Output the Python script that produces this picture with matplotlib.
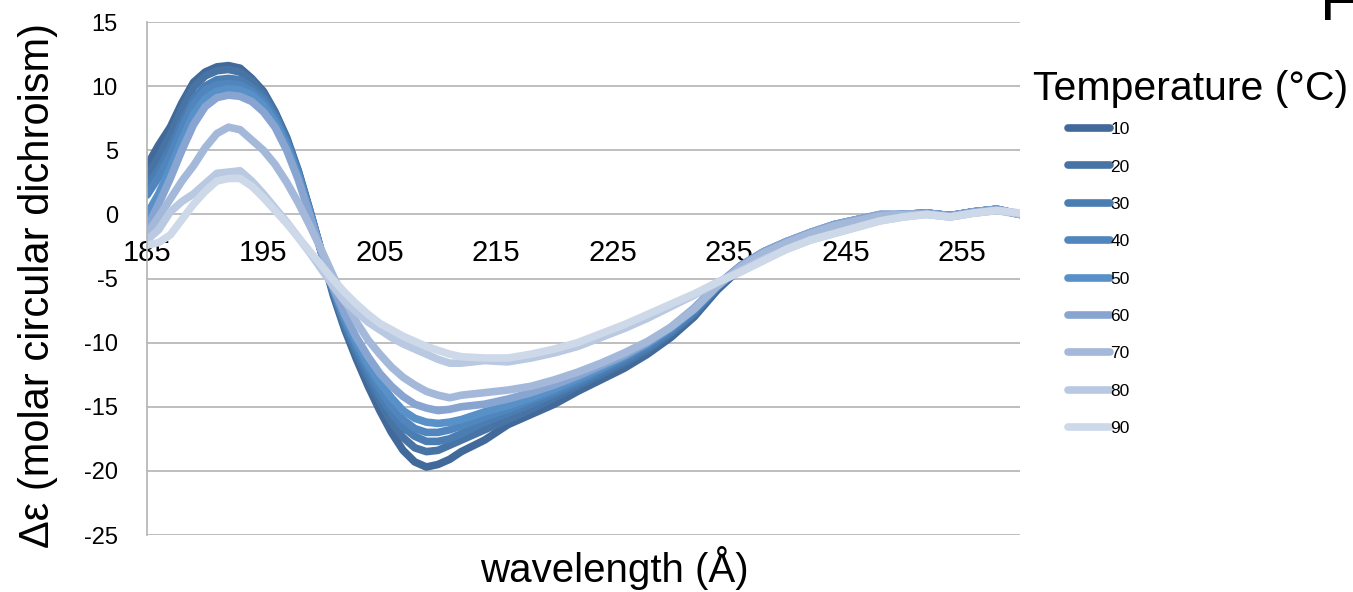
import matplotlib
matplotlib.use('Agg')
import matplotlib.pyplot as plt

plt.rcParams['font.family'] = 'Liberation Sans'
plt.rcParams['axes.unicode_minus'] = False

# wavelength grid (nm) and CD spectra, one list per temperature
wavelength = list(range(185, 213)) + list(range(214, 261, 2))

temps = ['10', '20', '30', '40', '50', '60', '70', '80', '90']
colors = ['#41699a', '#4774a4', '#4a7db2', '#5086bd', '#5891c8',
          '#88a5d2', '#a4b8da', '#b9c9e2', '#cdd8e9']

d10 = [3.8, 5.4, 6.8, 8.7, 10.3, 11.1, 11.5, 11.6, 11.4, 10.6,
       9.6, 8.0, 6.0, 3.4, 0.3, -3.0, -6.3, -9.0, -11.3, -13.4,
       -15.3, -17.0, -18.4, -19.3, -19.7, -19.5, -19.1, -18.5,
       -17.6, -16.4, -15.6, -14.8, -13.8, -12.9, -12.0, -10.9, -9.6, -8.0, -5.9, -4.2,
       -3.1, -2.3, -1.7, -1.0, -0.6, -0.2, 0.0, 0.1, -0.1, 0.2, 0.4, 0.0]
d20 = [3.0, 4.5, 6.2, 8.2, 9.9, 10.8, 11.2, 11.3, 11.1, 10.4,
       9.4, 7.9, 5.9, 3.3, 0.2, -3.0, -6.1, -8.8, -10.9, -12.8,
       -14.6, -16.2, -17.4, -18.2, -18.5, -18.4, -18.0, -17.6,
       -16.8, -16.0, -15.2, -14.3, -13.4, -12.5, -11.6, -10.6, -9.3, -7.8, -5.7, -4.1,
       -3.0, -2.2, -1.6, -0.9, -0.5, -0.1, 0.0, 0.1, -0.1, 0.2, 0.4, 0.0]
d30 = [2.2, 3.5, 5.2, 7.2, 9.0, 10.0, 10.5, 10.6, 10.5, 9.9,
       9.1, 7.7, 5.8, 3.3, 0.2, -3.0, -6.0, -8.5, -10.6, -12.4,
       -14.1, -15.5, -16.6, -17.3, -17.7, -17.7, -17.5, -17.1,
       -16.2, -15.5, -14.8, -14.0, -13.2, -12.3, -11.4, -10.4, -9.2, -7.7, -5.7, -4.1,
       -3.0, -2.2, -1.5, -0.9, -0.5, -0.1, 0.0, 0.1, -0.1, 0.2, 0.4, 0.0]
d40 = [1.5, 2.9, 4.6, 6.7, 8.6, 9.7, 10.1, 10.2, 10.1, 9.6,
       8.8, 7.5, 5.6, 3.2, 0.2, -3.0, -5.9, -8.3, -10.3, -12.0,
       -13.6, -15.0, -16.0, -16.7, -17.0, -17.0, -16.8, -16.5,
       -15.8, -15.2, -14.5, -13.8, -13.0, -12.1, -11.2, -10.2, -9.0, -7.5, -5.6, -4.0,
       -2.9, -2.1, -1.5, -0.8, -0.4, -0.1, 0.0, 0.1, -0.1, 0.2, 0.4, 0.0]
d50 = [0.0, 1.6, 3.6, 5.8, 7.8, 9.0, 9.6, 9.8, 9.7, 9.3,
       8.5, 7.2, 5.4, 3.0, 0.1, -3.0, -5.8, -8.1, -10.0, -11.7,
       -13.1, -14.3, -15.3, -15.9, -16.2, -16.3, -16.2, -16.0,
       -15.4, -14.9, -14.3, -13.6, -12.8, -12.0, -11.1, -10.1, -8.9, -7.4, -5.5, -4.0,
       -2.9, -2.1, -1.4, -0.8, -0.4, 0.0, 0.0, 0.1, -0.1, 0.2, 0.4, 0.0]
d60 = [-1.0, 0.8, 2.8, 5.0, 7.0, 8.4, 9.1, 9.3, 9.2, 8.8,
       8.0, 6.8, 5.0, 2.7, -0.1, -3.0, -5.7, -7.8, -9.6, -11.1,
       -12.4, -13.4, -14.2, -14.8, -15.1, -15.3, -15.2, -15.0,
       -14.8, -14.4, -13.9, -13.3, -12.6, -11.8, -11.0, -10.0, -8.8, -7.3, -5.5, -4.0,
       -2.9, -2.1, -1.4, -0.8, -0.4, 0.0, 0.0, 0.1, -0.1, 0.2, 0.4, 0.0]
d70 = [-1.5, -0.2, 1.2, 2.6, 3.8, 5.2, 6.3, 6.8, 6.6, 5.8,
       5.0, 3.9, 2.5, 0.9, -0.9, -2.8, -4.8, -6.7, -8.4, -9.8,
       -10.9, -11.9, -12.7, -13.3, -13.8, -14.1, -14.3, -14.1,
       -13.9, -13.7, -13.4, -12.9, -12.3, -11.6, -10.8, -9.9, -8.8, -7.4, -5.6, -4.1,
       -3.0, -2.2, -1.5, -0.9, -0.5, -0.1, 0.0, 0.0, -0.2, 0.1, 0.3, 0.0]
d80 = [-2.0, -1.2, 0.2, 1.0, 1.6, 2.4, 3.2, 3.3, 3.4, 2.6,
       1.6, 0.5, -0.6, -1.8, -3.0, -4.3, -5.6, -6.8, -7.6, -8.4,
       -9.0, -9.6, -10.1, -10.5, -10.9, -11.3, -11.6, -11.6,
       -11.4, -11.5, -11.2, -10.8, -10.3, -9.6, -8.9, -8.1, -7.2, -6.3, -5.3, -4.4,
       -3.5, -2.7, -2.0, -1.5, -1.0, -0.5, -0.2, 0.0, -0.2, 0.1, 0.3, 0.1]
d90 = [-2.4, -2.2, -1.6, -0.4, 0.8, 1.8, 2.6, 2.8, 2.8, 2.2,
       1.3, 0.3, -0.7, -1.8, -2.9, -4.0, -5.1, -6.1, -7.0, -7.8,
       -8.5, -9.0, -9.5, -9.9, -10.3, -10.6, -10.9, -11.1,
       -11.2, -11.2, -10.9, -10.5, -10.0, -9.3, -8.6, -7.8, -7.0, -6.2, -5.3, -4.5,
       -3.6, -2.7, -2.0, -1.5, -1.0, -0.5, -0.2, 0.0, -0.2, 0.1, 0.3, 0.1]

series = [d10, d20, d30, d40, d50, d60, d70, d80, d90]

fig = plt.figure(figsize=(13.53, 5.92), dpi=100)
ax = fig.add_axes([0.10865, 0.09628, 0.64523, 0.86655])

handles = []
for t, c, vals in zip(temps, colors, series):
    ln, = ax.plot(wavelength, vals, color=c, lw=5.5, label=t,
                  solid_capstyle='round', solid_joinstyle='round')
    handles.append(ln)

ax.set_xlim(185, 260)
ax.set_ylim(-25, 15)
ax.set_xticks(range(185, 260, 10))
ax.set_yticks(range(-25, 16, 5))

# category labels sit under the zero line, Excel style
ax.spines['bottom'].set_position(('data', 0))
ax.spines['bottom'].set_visible(False)
ax.spines['top'].set_visible(False)
ax.spines['right'].set_visible(False)
ax.spines['left'].set_color('#b3b3b3')
ax.spines['left'].set_linewidth(1.2)

ax.grid(axis='y', color='#b3b3b3', lw=1.2)
ax.set_axisbelow(True)
ax.tick_params(axis='x', length=0, pad=18, labelsize=21)
ax.tick_params(axis='y', length=0, pad=21, labelsize=17)

fig.text(38 / 1353, 1 - 285 / 592, 'Δε (molar circular dichroism)', rotation=90,
         ha='center', va='center', fontsize=30)
fig.text(614 / 1353, 1 - 568 / 592, 'wavelength (Å)', ha='center', va='center', fontsize=29)

fig.text(1033 / 1353, 1 - 89 / 592, 'Temperature (°C)', ha='left', va='center', fontsize=29.5)
fig.legend(handles=handles, loc='upper left', bbox_to_anchor=(1068 / 1353, 1 - 122 / 592),
           frameon=False, fontsize=12.5, borderpad=0, borderaxespad=0,
           handlelength=2.4, handletextpad=0.05, labelspacing=1.28)

# panel letter cut off by the top edge
fig.text(1320 / 1353, 1 - 20 / 592, 'F', ha='left', va='baseline', fontsize=44)

fig.savefig('out.png', dpi=100)
